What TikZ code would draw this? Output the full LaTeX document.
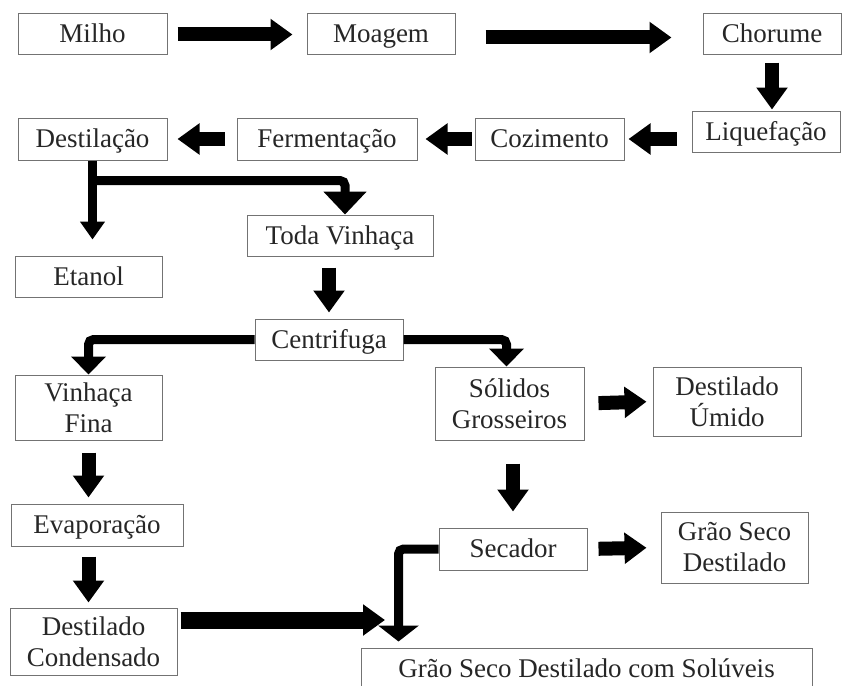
\documentclass[tikz,border=0pt]{standalone}
\usepackage{fontspec}
\setmainfont{Liberation Serif}
\usetikzlibrary{arrows.meta}

\tikzset{
  box/.style={draw=black!55, line width=1pt, align=center, inner sep=0pt,
    text=black!85, font=\fontsize{27}{31}\selectfont},
  oneline/.style={box, text height=20pt, text depth=3pt},
  flow/.style={line width=14pt, -{Triangle[length=22pt,width=30pt]}},
  split/.style={line width=9pt, rounded corners=5pt, -{Triangle[length=18pt,width=34pt]}}
}

\begin{document}
\begin{tikzpicture}[x=1pt,y=-1pt]
  \useasboundingbox (0,0) rectangle (845,685);
  \clip (0,0) rectangle (845,685);

  %first row
  \node[oneline, minimum width=149pt, minimum height=41pt] (milho) at (92.5,34.5) {Milho};
  \node[oneline, minimum width=148pt, minimum height=41pt] (moagem) at (381,34.5) {Moagem};
  \node[oneline, minimum width=138pt, minimum height=41pt] (chorume) at (772,34.5) {Chorume};

  %second row
  \node[oneline, minimum width=148pt, minimum height=41pt] (liquefacao) at (766,131.5) {Liquefação};
  \node[oneline, minimum width=149pt, minimum height=42pt] (cozimento) at (549.5,139) {Cozimento};
  \node[oneline, minimum width=180pt, minimum height=42pt] (fermentacao) at (327,139) {Fermentação};
  \node[oneline, minimum width=149pt, minimum height=42pt] (destilacao) at (92.5,139) {Destilação};

  %products of distillation
  \node[oneline, minimum width=147pt, minimum height=41pt] (etanol) at (88.5,276.5) {Etanol};
  \node[oneline, minimum width=186pt, minimum height=41pt] (toda) at (340,235.5) {Toda Vinhaça};
  \node[oneline, minimum width=148pt, minimum height=41pt] (centrifuga) at (329,339.5) {Centrifuga};

  %left column
  \node[box, minimum width=147pt, minimum height=65pt] (fina) at (88.5,407.5) {Vinhaça\\Fina};
  \node[oneline, minimum width=172pt, minimum height=42pt] (evaporacao) at (97,525) {Evaporação};
  \node[box, minimum width=167pt, minimum height=67pt] (condensado) at (93.5,641.5) {Destilado\\Condensado};

  %right column
  \node[box, minimum width=149pt, minimum height=73pt] (solidos) at (509.5,403.5) {Sólidos\\Grosseiros};
  \node[box, minimum width=148pt, minimum height=69pt] (umido) at (727,401.5) {Destilado\\Úmido};
  \node[oneline, minimum width=148pt, minimum height=42pt] (secador) at (513,549) {Secador};
  \node[box, minimum width=147pt, minimum height=71pt] (seco) at (734.5,547.5) {Grão Seco\\Destilado};
  \node[oneline, minimum width=451pt, minimum height=42pt] (ddgs) at (586.5,669) {Grão Seco Destilado com Solúveis};

  \coordinate (merge) at (385,620);

  %main line
  \draw[flow, shorten <=10pt, shorten >=14pt] (milho.east) -- (moagem.west);
  \draw[flow, shorten <=30pt, shorten >=31pt] ([yshift=-3pt]moagem.east) -- ([yshift=-3pt]chorume.west);
  \draw[flow, shorten <=7pt, shorten >=1pt] (chorume.south) -- (chorume.south |- liquefacao.north);
  \draw[flow, shorten <=15pt, shorten >=4pt] (cozimento.east -| liquefacao.west) -- (cozimento.east);
  \draw[flow, shorten <=3pt, shorten >=8pt] (cozimento.west) -- (fermentacao.east);
  \draw[flow, shorten <=12pt, shorten >=10pt] (fermentacao.west) -- (destilacao.east);

  %distillation split
  \draw[split, -{Triangle[length=18pt,width=24pt]}, shorten >=16pt] (destilacao.south) -- (destilacao.south |- etanol.north);
  \draw[split, -{Triangle[length=23pt,width=42pt]}] (destilacao.south) ++(0,20) -| ([xshift=5pt]toda.north);
  \draw[flow, shorten <=11pt, shorten >=6pt] (toda.south -| centrifuga) -- (centrifuga.north);

  %centrifuge split
  \draw[split] (centrifuga.west) -| (fina.north);
  \draw[split] (centrifuga.east) -| ([xshift=-3pt]solidos.north);

  %thin stillage
  \draw[flow, shorten <=12pt, shorten >=6pt] (fina.south) -- (fina.south |- evaporacao.north);
  \draw[flow, shorten <=10pt, shorten >=5pt] (fina.south |- evaporacao.south) -- (fina.south |- condensado.north);
  \draw[flow, line width=17pt, shorten <=3pt] (condensado.east |- merge) -- (merge);

  %wet grains
  \draw[flow, shorten <=14pt, shorten >=6pt] (solidos.east) -- (umido.west);
  \draw[flow, shorten <=23pt, shorten >=16pt] (solidos.south -| secador) -- (secador.north);
  \draw[flow, shorten <=11pt, shorten >=14pt] (secador.east) -- (seco.west);
  \draw[split, -{Triangle[length=16pt,width=40pt]}, shorten >=6pt] (secador.west) -| ([xshift=38pt]ddgs.north west);
\end{tikzpicture}
\end{document}
